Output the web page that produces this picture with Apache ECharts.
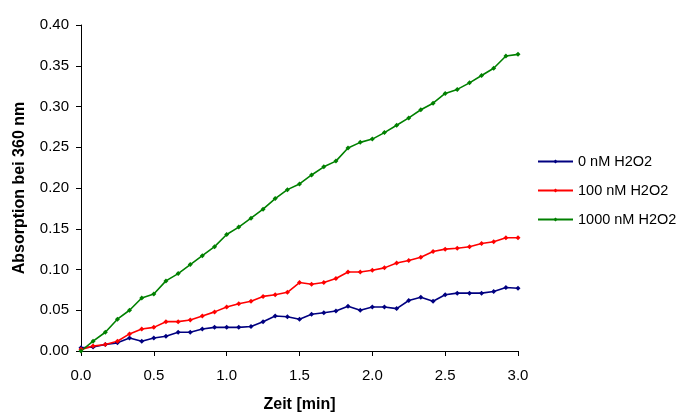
<!DOCTYPE html>
<html>
<head>
<meta charset="utf-8">
<script src="https://cdn.jsdelivr.net/npm/echarts@6/dist/echarts.min.js"></script>
<style>
html, body { margin: 0; padding: 0; background: #fff; }
#main { width: 683px; height: 417px; }
</style>
</head>
<body>
<div id="main"></div>
<script>
// time in minutes (every 5 s)
var zeit = [0, 0.083, 0.167, 0.25, 0.333, 0.417, 0.5, 0.583, 0.667, 0.75, 0.833, 0.917,
    1.0, 1.083, 1.167, 1.25, 1.333, 1.417, 1.5, 1.583, 1.667, 1.75, 1.833, 1.917,
    2.0, 2.083, 2.167, 2.25, 2.333, 2.417, 2.5, 2.583, 2.667, 2.75, 2.833, 2.917, 3.0]

var h2o2_0 = [0.004, 0.005, 0.008, 0.010, 0.016, 0.012, 0.016, 0.018, 0.023, 0.023, 0.027, 0.029,
    0.029, 0.029, 0.030, 0.036, 0.043, 0.042, 0.039, 0.045, 0.047, 0.049, 0.055, 0.050,
    0.054, 0.054, 0.052, 0.062, 0.066, 0.061, 0.069, 0.071, 0.071, 0.071, 0.073, 0.078, 0.077]

var h2o2_100 = [0.002, 0.006, 0.008, 0.012, 0.021, 0.027, 0.029, 0.036, 0.036, 0.038, 0.043, 0.048,
    0.054, 0.058, 0.061, 0.067, 0.069, 0.072, 0.084, 0.082, 0.084, 0.089, 0.097, 0.097,
    0.099, 0.102, 0.108, 0.111, 0.115, 0.122, 0.125, 0.126, 0.128, 0.132, 0.134, 0.139, 0.139]

var h2o2_1000 = [0.000, 0.012, 0.023, 0.039, 0.050, 0.065, 0.070, 0.086, 0.095, 0.106, 0.117, 0.128,
    0.143, 0.152, 0.163, 0.174, 0.187, 0.198, 0.205, 0.216, 0.226, 0.233, 0.249, 0.256,
    0.260, 0.268, 0.277, 0.286, 0.296, 0.304, 0.316, 0.321, 0.329, 0.338, 0.347, 0.362, 0.364]

var seriesNames = ['0 nM H2O2', '100 nM H2O2', '1000 nM H2O2']
var seriesColors = ['#000080', '#FF0000', '#008000']
var seriesValues = [h2o2_0, h2o2_100, h2o2_1000]

var myChart = echarts.init(document.getElementById('main'))

function pairs(ys) {
    return zeit.map(function (x, i) { return [x, ys[i]] })
}

var font = 'Liberation Sans, Arial, sans-serif'

var option = {
    backgroundColor: '#fff',
    animation: false,
    textStyle: { fontFamily: font },
    grid: {
        left: 81,
        right: 165,
        top: 25,
        bottom: 66,
        outerBoundsMode: 'none',
    },
    legend: {
        orient: 'vertical',
        left: 537,
        top: 154,
        padding: 0,
        itemWidth: 35,
        itemHeight: 5,
        itemGap: 14,
        textStyle: { fontSize: 14.5, color: '#000', fontFamily: font },
        data: seriesNames,
    },
    xAxis: {
        type: 'value',
        min: 0,
        max: 3,
        interval: 0.5,
        name: 'Zeit [min]',
        nameLocation: 'middle',
        nameGap: 46,
        nameTextStyle: { fontSize: 16, fontWeight: 'bold', color: '#000' },
        axisLine: { lineStyle: { color: '#000', width: 1 } },
        axisTick: { show: true, length: 5, lineStyle: { color: '#000' } },
        axisLabel: {
            fontSize: 15,
            color: '#000',
            margin: 17,
            formatter: function (v) { return v.toFixed(1) },
        },
        splitLine: { show: false },
    },
    yAxis: {
        type: 'value',
        min: 0,
        max: 0.4,
        interval: 0.05,
        name: 'Absorption bei 360 nm',
        nameLocation: 'middle',
        nameGap: 53,
        nameTextStyle: { fontSize: 16, fontWeight: 'bold', color: '#000' },
        axisLine: { show: true, lineStyle: { color: '#000', width: 1 } },
        axisTick: { show: true, length: 5, lineStyle: { color: '#000' } },
        axisLabel: {
            fontSize: 15,
            color: '#000',
            margin: 12,
            formatter: function (v) { return v.toFixed(2) },
        },
        splitLine: { show: false },
    },
    series: seriesNames.map(function (name, i) {
        return {
            name: name,
            type: 'line',
            data: pairs(seriesValues[i]),
            symbol: 'diamond',
            symbolSize: 5,
            showAllSymbol: true,
            lineStyle: { color: seriesColors[i], width: 1.6 },
            itemStyle: { color: seriesColors[i] },
        }
    }),
}

myChart.setOption(option)
</script>
</body>
</html>
